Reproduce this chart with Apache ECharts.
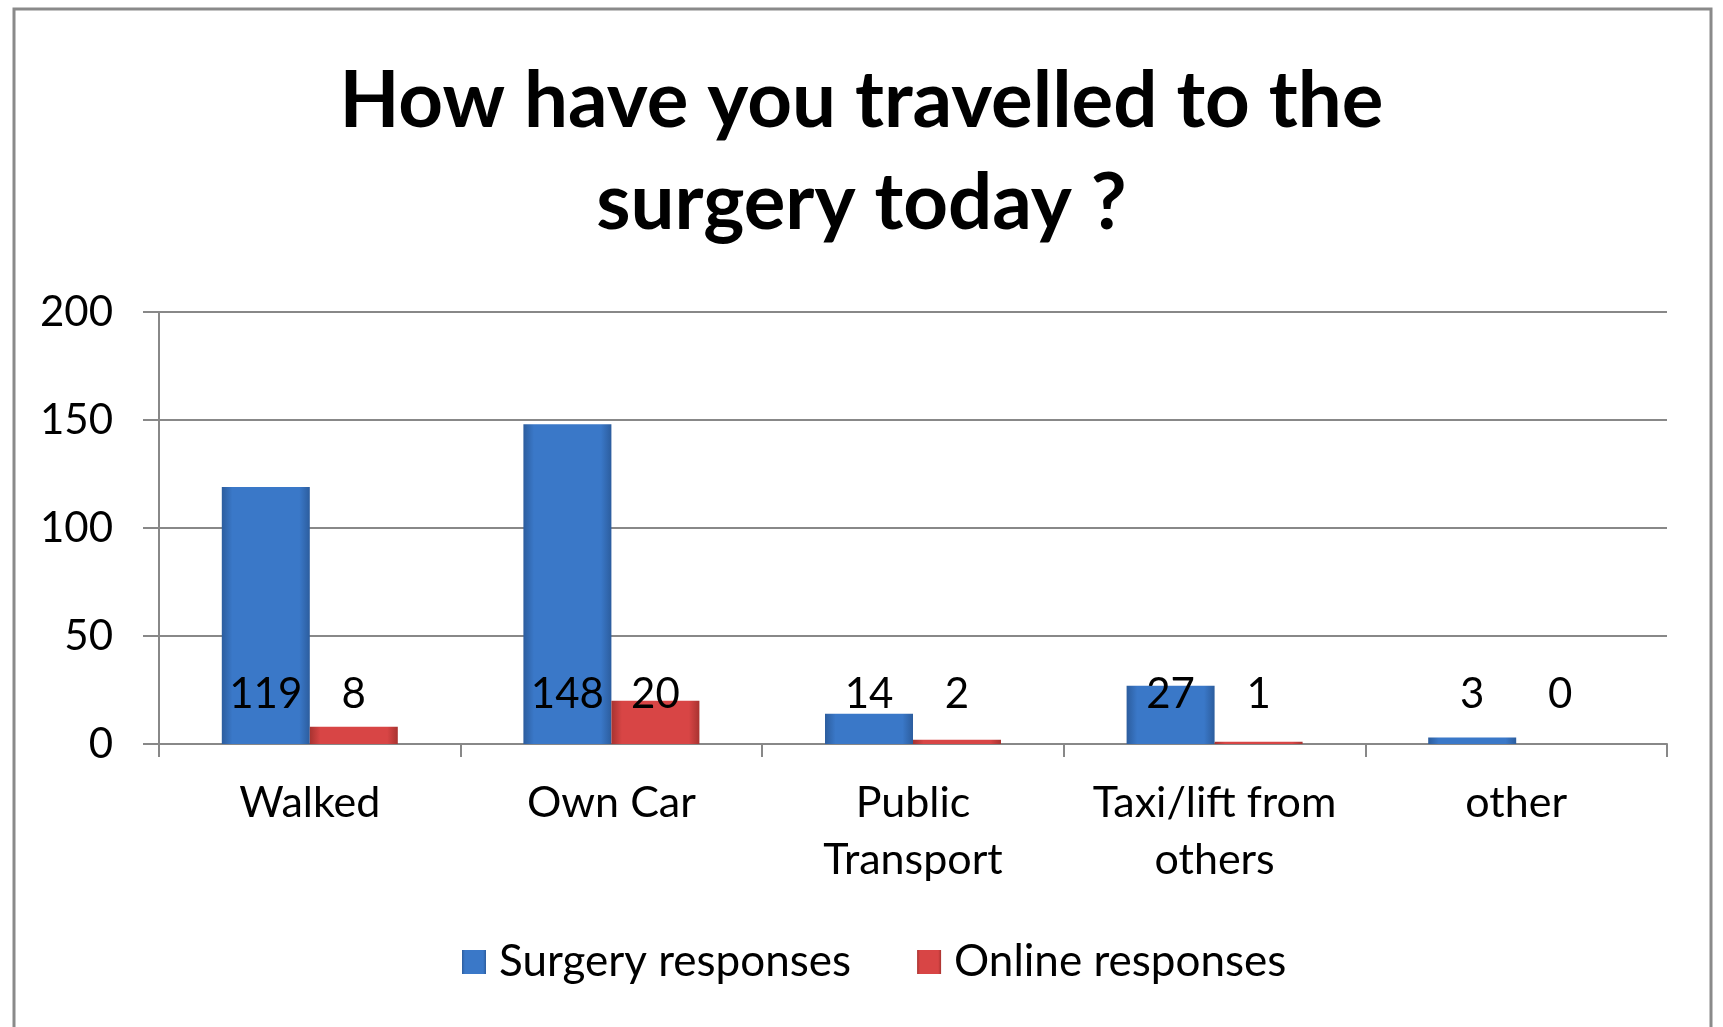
<!DOCTYPE html>
<html>
<head>
<meta charset="utf-8">
<script src="https://cdn.jsdelivr.net/npm/echarts@6/dist/echarts.min.js"></script>
<style>
html,body{margin:0;padding:0;background:#fff;}
#chart{width:1723px;height:1027px;}
</style>
</head>
<body>
<div id="chart"></div>
<script>
var categories = ['Walked', 'Own Car', 'Public\nTransport', 'Taxi/lift from\nothers', 'other'];
var surgeryValues = [119, 148, 14, 27, 3];
var onlineValues = [8, 20, 2, 1, 0];
var seriesNames = ['Surgery responses', 'Online responses'];
var titleText = 'How have you travelled to the\nsurgery today ?';

var chart = echarts.init(document.getElementById('chart'));

function grad(edge, mid) {
  return new echarts.graphic.LinearGradient(0, 0, 1, 0, [
    {offset: 0, color: edge},
    {offset: 0.12, color: mid},
    {offset: 0.88, color: mid},
    {offset: 1, color: edge}
  ]);
}
var blue = grad('#2c5d9e', '#3a78c8');
var red = grad('#a83330', '#d84545');

var labelStyle = {
  show: true,
  position: 'insideBottom',
  distance: 29,
  color: '#000',
  fontFamily: 'Lato',
  fontSize: 42
};

chart.setOption({
  animation: false,
  backgroundColor: '#fff',
  graphic: [{
    type: 'rect',
    shape: {x: 14, y: 9, width: 1697, height: 1100},
    style: {fill: 'none', stroke: '#8a8a8a', lineWidth: 3},
    silent: true
  }],
  title: {
    text: titleText,
    left: 'center',
    top: 46,
    textStyle: {
      fontFamily: 'Lato',
      fontWeight: 'bold',
      fontSize: 78,
      lineHeight: 102,
      color: '#000'
    }
  },
  legend: {
    bottom: 38,
    left: 457,
    itemWidth: 24,
    itemHeight: 24,
    itemGap: 66,
    icon: 'rect',
    textStyle: {fontFamily: 'Lato', fontSize: 44, color: '#000', padding: [0, 0, 0, 8]},
    data: seriesNames
  },
  grid: {left: 159, right: 56, top: 312, bottom: 283},
  xAxis: {
    type: 'category',
    data: categories,
    axisLine: {lineStyle: {color: '#888', width: 2}},
    axisTick: {show: true, length: 13, lineStyle: {color: '#888', width: 2}},
    axisLabel: {
      fontFamily: 'Lato', fontSize: 43, color: '#000',
      lineHeight: 57, margin: 31, interval: 0
    }
  },
  yAxis: {
    type: 'value',
    min: 0, max: 200, interval: 50,
    axisLine: {show: true, lineStyle: {color: '#888', width: 2}},
    axisTick: {show: true, length: 16, lineStyle: {color: '#888', width: 2}},
    splitLine: {lineStyle: {color: '#888', width: 2}},
    axisLabel: {fontFamily: 'Lato', fontSize: 42, color: '#000', margin: 46}
  },
  series: [{
    name: seriesNames[0],
    type: 'bar',
    data: surgeryValues,
    barWidth: 88,
    barGap: '0%',
    itemStyle: {color: blue},
    label: labelStyle
  }, {
    name: seriesNames[1],
    type: 'bar',
    data: onlineValues,
    barWidth: 88,
    barGap: '0%',
    itemStyle: {color: red},
    label: labelStyle
  }]
});
</script>
</body>
</html>
